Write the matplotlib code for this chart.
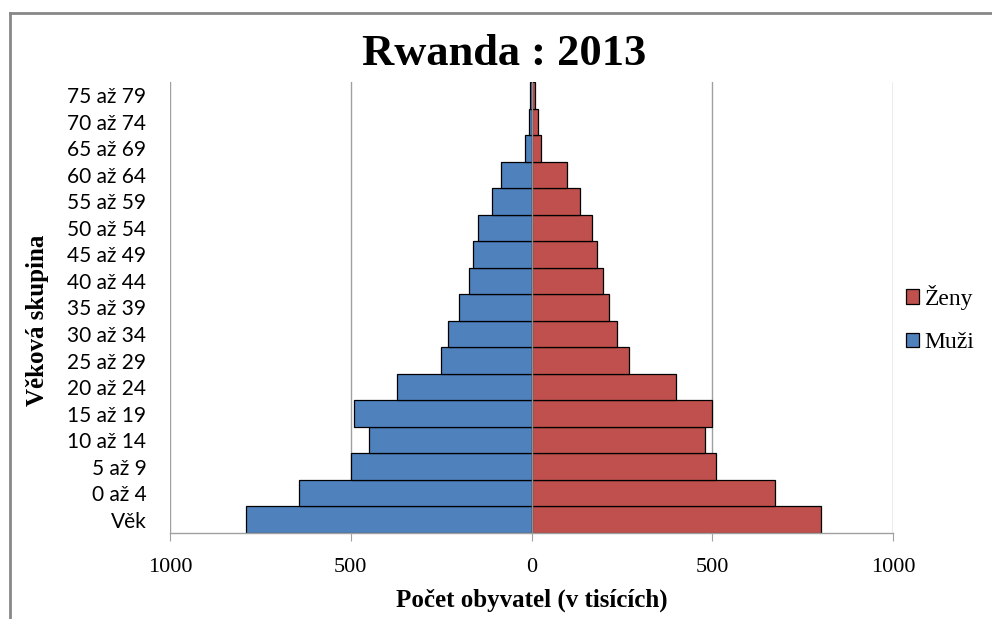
import matplotlib.pyplot as plt
import numpy as np
from matplotlib.lines import Line2D
from matplotlib.patches import Patch

# věkové skupiny odspodu nahoru
age_groups = [
    "Věk", "0 až 4", "5 až 9", "10 až 14", "15 až 19", "20 až 24", "25 až 29",
    "30 až 34", "35 až 39", "40 až 44", "45 až 49", "50 až 54", "55 až 59",
    "60 až 64", "65 až 69", "70 až 74", "75 až 79",
]
males = [790, 643, 500, 450, 491, 373, 249, 230, 200, 173, 163, 147, 110, 83, 17, 6, 4]
females = [801, 674, 509, 480, 500, 401, 270, 237, 214, 198, 181, 168, 134, 97, 27, 17, 10]
x_ticks = [-1000, -500, 0, 500, 1000]
x_tick_labels = ["1000", "500", "0", "500", "1000"]

MALE_COLOR = "#4F81BD"
FEMALE_COLOR = "#C0504D"
GRID_COLOR = "#A0A0A0"
SERIF = "Liberation Serif"
SANS = "Lato"

fig = plt.figure(figsize=(9.92, 6.19), dpi=100)
ax = fig.add_axes([170 / 992, 1 - 533 / 619, 723 / 992, 451 / 619])

y = np.arange(len(age_groups))
ax.barh(y, [-m for m in males], height=1.0, color=MALE_COLOR, edgecolor="black", linewidth=0.9, zorder=2)
ax.barh(y, females, height=1.0, color=FEMALE_COLOR, edgecolor="black", linewidth=0.9, zorder=2)

ax.set_xlim(-1000, 1000)
ax.set_ylim(-0.5, len(age_groups) - 0.5)

# svislá mřížka
for xv in x_ticks:
    ax.axvline(xv, color=GRID_COLOR, linewidth=1.0, zorder=1)
ax.axvline(0, color="#909090", linewidth=1.0, zorder=3)

for side in ("top", "right", "left"):
    ax.spines[side].set_visible(False)
ax.spines["bottom"].set_color(GRID_COLOR)
ax.spines["bottom"].set_linewidth(1.0)

ax.set_xticks(x_ticks)
ax.set_xticklabels(x_tick_labels, fontfamily=SERIF, fontsize=16)
ax.tick_params(axis="x", direction="out", length=6, color=GRID_COLOR, pad=12)
ax.set_yticks(y)
ax.set_yticklabels(age_groups, fontfamily=SANS, fontsize=15)
ax.tick_params(axis="y", length=0, pad=17)

ax.set_xlabel("Počet obyvatel (v tisících)", fontfamily=SERIF, fontsize=18, fontweight="bold")
ax.xaxis.set_label_coords(0.5, -(600 - 533) / 451, transform=ax.transAxes)
ax.xaxis.label.set_va("center")
ax.set_ylabel("Věková skupina", fontfamily=SERIF, fontsize=18, fontweight="bold")
ax.yaxis.set_label_coords(-(170 - 38) / 723, (533 - 320) / 451)
ax.yaxis.label.set_va("center")

fig.text(504 / 992, 1 - 54 / 619, "Rwanda : 2013", ha="center", va="center",
         fontfamily=SERIF, fontsize=32, fontweight="bold")

handles = [
    Patch(facecolor=FEMALE_COLOR, edgecolor="black", linewidth=0.9),
    Patch(facecolor=MALE_COLOR, edgecolor="black", linewidth=0.9),
]
fig.legend(handles, ["Ženy", "Muži"], loc="center left", bbox_to_anchor=(894 / 992, 1 - 319 / 619),
           frameon=False, prop={"family": SERIF, "size": 17}, handlelength=0.55, handleheight=0.55,
           handletextpad=0.25, labelspacing=0.95, borderpad=0)

# šedý rámeček grafu
fig.add_artist(Line2D([9.5 / 992, 9.5 / 992], [0, 1 - 12.5 / 619], color="#888888", linewidth=2))
fig.add_artist(Line2D([9.5 / 992, 1], [1 - 12.5 / 619, 1 - 12.5 / 619], color="#888888", linewidth=2))

fig.savefig("out.png", dpi=100)
